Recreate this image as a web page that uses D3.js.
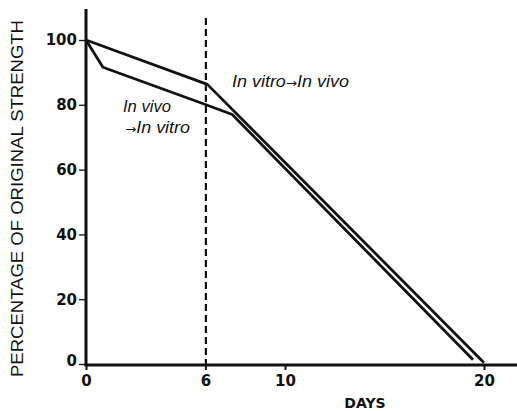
<!DOCTYPE html>
<html>
<head>
<meta charset="utf-8">
<script src="https://cdn.jsdelivr.net/npm/d3@7"></script>
<style>
  body { margin: 0; background: #fff; }
</style>
</head>
<body>
<div id="chart"></div>
<script>
const width = 517, height = 411;

// data
const yTicks = [0, 20, 40, 60, 80, 100];
const xTicks = [0, 6, 10, 20];
const vitroToVivo = [[0, 100], [6.1, 86.3], [20, 0.4]];
const vivoToVitro = [[0, 100], [0.85, 91.6], [6, 80.1], [7.35, 77], [19.45, 1.3]];
const changeDay = 6;

const x = d3.scaleLinear().domain([0, 20]).range([86, 484]);
const y = d3.scaleLinear().domain([0, 100]).range([364, 40]);

const svg = d3.select("#chart")
  .append("svg")
  .attr("width", width)
  .attr("height", height);

const ink = "#111";

// y axis
const yAxis = svg.append("g")
  .attr("transform", `translate(${x(0)},0)`)
  .call(d3.axisLeft(y).tickValues(yTicks).tickSize(7).tickPadding(2));
yAxis.select(".domain").remove();
yAxis.selectAll(".tick line").attr("stroke", ink).attr("stroke-width", 1.3);
yAxis.selectAll(".tick text")
  .attr("fill", ink)
  .style("font", "bold 15px 'DejaVu Sans'")
  .attr("dy", (d) => d === 0 ? "0.1em" : "0.32em");

// x axis
const xAxis = svg.append("g")
  .attr("transform", `translate(0,${y(0) + 1})`)
  .call(d3.axisBottom(x).tickValues(xTicks).tickSize(5).tickPadding(5));
xAxis.select(".domain").remove();
xAxis.selectAll(".tick line").attr("stroke", ink).attr("stroke-width", 2);
xAxis.selectAll(".tick text")
  .attr("fill", ink)
  .style("font", "bold 15px 'DejaVu Sans'");

// axis lines
svg.append("line")
  .attr("x1", x(0)).attr("x2", x(0))
  .attr("y1", 9).attr("y2", y(0) + 2)
  .attr("stroke", ink).attr("stroke-width", 3);
svg.append("line")
  .attr("x1", x(0) - 1.5).attr("x2", width)
  .attr("y1", y(0) + 1).attr("y2", y(0) + 1)
  .attr("stroke", ink).attr("stroke-width", 3);

// dashed line at day 6
svg.append("line")
  .attr("x1", x(changeDay) + 0.5).attr("x2", x(changeDay) + 0.5)
  .attr("y1", 18).attr("y2", y(0))
  .attr("stroke", ink).attr("stroke-width", 2.2)
  .attr("stroke-dasharray", "7,4");

// curves
const line = d3.line().x(d => x(d[0])).y(d => y(d[1]));
[vitroToVivo, vivoToVitro].forEach(s => {
  svg.append("path")
    .attr("d", line(s))
    .attr("fill", "none")
    .attr("stroke", ink)
    .attr("stroke-width", 2.8)
    .attr("stroke-linejoin", "round");
});

// labels, the arrow drawn in a font that centres it
const lab = (parts, px, py, len) => {
  const t = svg.append("text")
    .attr("x", px).attr("y", py)
    .attr("textLength", len).attr("lengthAdjust", "spacingAndGlyphs")
    .attr("fill", ink)
    .style("font", "italic 16px 'Liberation Sans', Arial, sans-serif");
  parts.forEach(p => {
    t.append("tspan")
      .style("font", p === "\u2192" ? "12px 'DejaVu Sans'" : null)
      .text(p);
  });
};
lab(["In vitro", "\u2192", "In vivo"], 232, 87, 117);
lab(["In vivo"], 123, 112, 48);
lab(["\u2192", "In vitro"], 125, 133, 65);

svg.append("text")
  .attr("x", 365).attr("y", 408)
  .attr("text-anchor", "middle")
  .attr("fill", ink)
  .style("font", "bold 14px 'DejaVu Sans'")
  .text("DAYS");

svg.append("text")
  .attr("transform", "translate(23,377) rotate(-90)")
  .attr("textLength", 357).attr("lengthAdjust", "spacingAndGlyphs")
  .attr("fill", ink)
  .style("font", "17px 'Liberation Sans', Arial, sans-serif")
  .text("PERCENTAGE OF ORIGINAL STRENGTH");
</script>
</body>
</html>
